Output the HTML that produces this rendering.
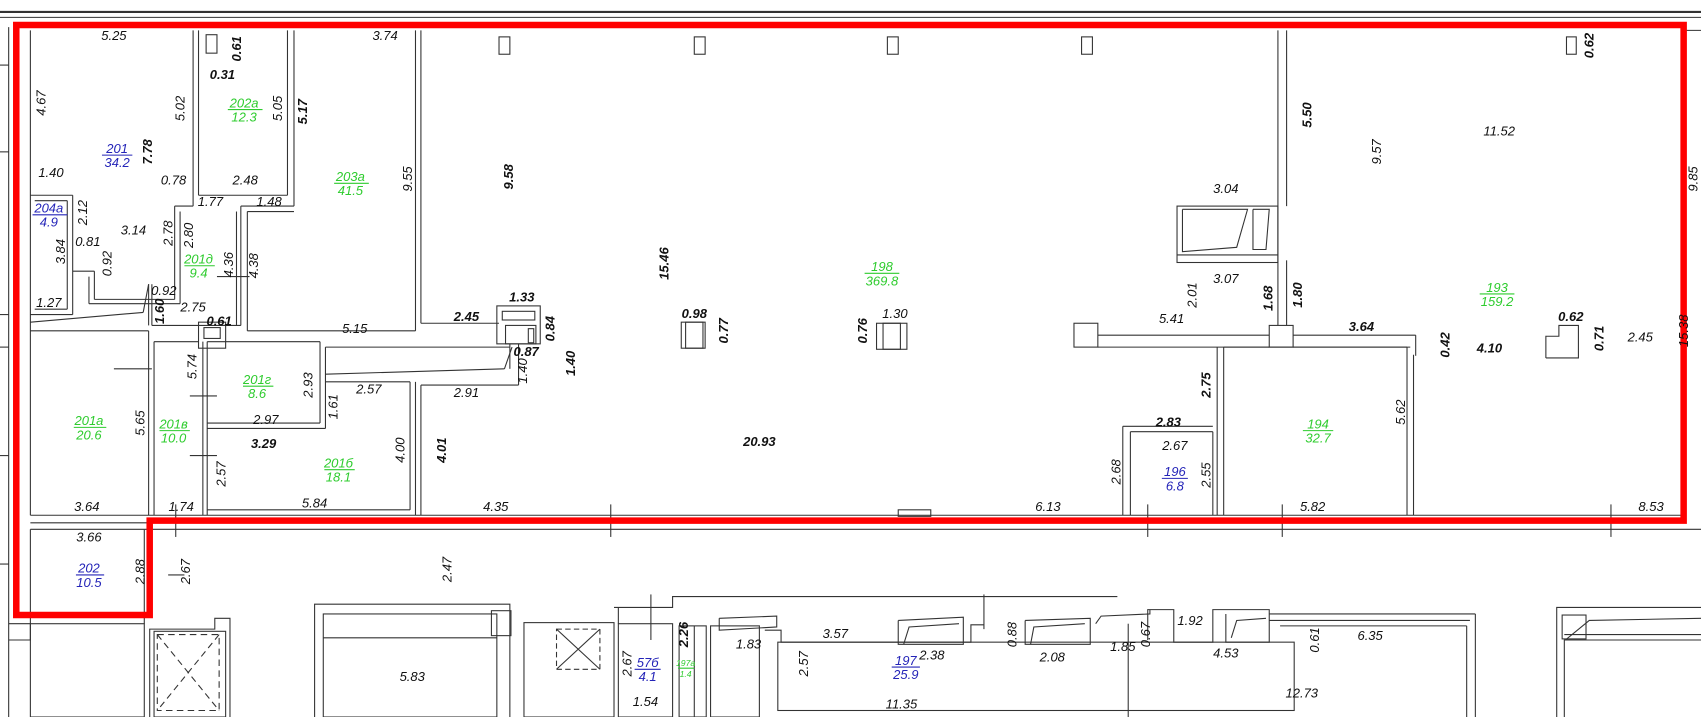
<!DOCTYPE html>
<html><head><meta charset="utf-8"><style>
html,body{margin:0;padding:0;background:#fff;width:1701px;height:717px;overflow:hidden}
svg{display:block}
text{font-family:"Liberation Sans",sans-serif;font-style:italic;font-size:12px;text-anchor:middle;fill:#111}
.b{font-weight:bold;font-size:12px}
.g{fill:#2ecc2e}.u{fill:#2424b8}
</style></head><body>
<svg width="1701" height="717" viewBox="0 0 1568 661" preserveAspectRatio="none" xmlns="http://www.w3.org/2000/svg">
<g fill="none" stroke="#333" stroke-width="1">
<!-- top band -->
<line x1="0" y1="11" x2="1568" y2="11" stroke-width="2"/>
<line x1="0" y1="16" x2="1568" y2="16"/>
<line x1="1552" y1="28" x2="1568" y2="28"/>
<!-- left outer -->
<line x1="8" y1="25" x2="8" y2="661"/>
<line x1="28" y1="28" x2="28" y2="475"/>
<line x1="28" y1="488" x2="28" y2="575"/>
<line x1="0" y1="60" x2="8" y2="60"/><line x1="0" y1="140" x2="8" y2="140"/><line x1="0" y1="290" x2="8" y2="290"/><line x1="0" y1="320" x2="8" y2="320"/><line x1="0" y1="420" x2="8" y2="420"/><line x1="0" y1="520" x2="8" y2="520"/>
<!-- 201 / 202a -->
<line x1="178" y1="28" x2="178" y2="190"/><line x1="183" y1="28" x2="183" y2="180"/>
<line x1="183" y1="180" x2="265" y2="180"/><line x1="265" y1="28" x2="265" y2="180"/><line x1="271" y1="28" x2="271" y2="190"/>
<line x1="222" y1="190" x2="271" y2="190"/>
<line x1="161" y1="190" x2="178" y2="190"/>
<line x1="161" y1="190" x2="161" y2="276"/><line x1="166" y1="195" x2="166" y2="280"/>
<line x1="87" y1="276" x2="161" y2="276"/><line x1="82" y1="280" x2="166" y2="280"/>
<line x1="87" y1="250" x2="87" y2="276"/><line x1="82" y1="255" x2="82" y2="280"/>
<line x1="67" y1="250" x2="87" y2="250"/>
<!-- 204a -->
<line x1="28" y1="180" x2="67" y2="180"/><line x1="32" y1="185" x2="62" y2="185"/>
<line x1="67" y1="180" x2="67" y2="290"/><line x1="62" y1="185" x2="62" y2="285"/>
<line x1="32" y1="285" x2="62" y2="285"/><line x1="28" y1="290" x2="67" y2="290"/>
<!-- slanted -->
<line x1="28" y1="297" x2="132" y2="288"/><line x1="132" y1="288" x2="137" y2="262"/><line x1="137" y1="262" x2="137" y2="300"/>
<!-- 201д -->
<line x1="140" y1="262" x2="140" y2="300"/><line x1="140" y1="300" x2="222" y2="300"/>
<line x1="222" y1="190" x2="222" y2="300"/><line x1="218" y1="195" x2="218" y2="300"/>
<line x1="200" y1="255" x2="230" y2="255" />
<!-- 203a -->
<line x1="228" y1="195" x2="228" y2="305"/><line x1="228" y1="195" x2="271" y2="195"/>
<line x1="228" y1="305" x2="383" y2="305"/><line x1="383" y1="28" x2="383" y2="305"/><line x1="388" y1="28" x2="388" y2="298"/>
<line x1="388" y1="298" x2="460" y2="298"/>
<!-- 0.61 box -->
<rect x="183" y="297" width="25" height="24"/><rect x="188" y="302" width="15" height="10"/>
<!-- left lower rooms -->
<line x1="28" y1="305" x2="137" y2="305"/><line x1="137" y1="305" x2="137" y2="475"/><line x1="142" y1="315" x2="142" y2="475"/>
<line x1="142" y1="315" x2="183" y2="315"/>
<line x1="187" y1="315" x2="187" y2="475"/><line x1="191" y1="315" x2="191" y2="475"/>
<line x1="191" y1="315" x2="295" y2="315"/><line x1="295" y1="315" x2="295" y2="390"/><line x1="300" y1="320" x2="300" y2="395"/>
<line x1="191" y1="390" x2="295" y2="390"/><line x1="191" y1="395" x2="300" y2="395"/>
<line x1="300" y1="320" x2="470" y2="320"/><line x1="300" y1="345" x2="465" y2="340"/><line x1="465" y1="340" x2="472" y2="320"/>
<line x1="300" y1="352" x2="378" y2="352"/><line x1="378" y1="352" x2="378" y2="470"/><line x1="191" y1="470" x2="378" y2="470"/>
<line x1="383" y1="352" x2="383" y2="475"/><line x1="388" y1="355" x2="388" y2="475"/><line x1="388" y1="355" x2="478" y2="355"/>
<line x1="175" y1="365" x2="200" y2="365"/><line x1="175" y1="420" x2="200" y2="420"/>
<line x1="105" y1="340" x2="140" y2="340"/>
<!-- 1.33 box -->
<rect x="458" y="282" width="40" height="35"/><rect x="463" y="287" width="30" height="8"/><rect x="466" y="300" width="28" height="17"/><rect x="487" y="303" width="5" height="13"/>
<line x1="478" y1="317" x2="478" y2="355"/><line x1="470" y1="317" x2="470" y2="340"/>
<!-- columns -->
<rect x="628" y="297" width="22" height="24"/><rect x="632" y="297" width="16" height="24"/>
<rect x="808" y="298" width="28" height="24"/><rect x="814" y="298" width="16" height="24"/>
<rect x="990" y="298" width="22" height="22"/>
<line x1="1012" y1="309" x2="1170" y2="309"/><line x1="1012" y1="320" x2="1170" y2="320"/>
<rect x="1170" y="300" width="22" height="20"/>
<line x1="1192" y1="309" x2="1305" y2="309"/><line x1="1305" y1="309" x2="1305" y2="328"/>
<line x1="1192" y1="320" x2="1300" y2="320"/>
<!-- right walls -->
<line x1="1178" y1="28" x2="1178" y2="300"/><line x1="1186" y1="28" x2="1186" y2="190"/><line x1="1186" y1="240" x2="1186" y2="300"/>
<rect x="1085" y="190" width="93" height="52"/><line x1="1085" y1="235" x2="1178" y2="235"/>
<polyline points="1090,193 1150,193 1140,228 1090,232 1090,193"/><polyline points="1155,193 1170,193 1167,230 1155,230 1155,193"/>
<!-- 194/196 -->
<line x1="1122" y1="320" x2="1122" y2="475"/><line x1="1128" y1="320" x2="1128" y2="475"/>
<line x1="1128" y1="320" x2="1297" y2="320"/><line x1="1297" y1="320" x2="1297" y2="475"/><line x1="1303" y1="327" x2="1303" y2="475"/>
<line x1="1035" y1="393" x2="1118" y2="393"/><line x1="1042" y1="398" x2="1118" y2="398"/>
<line x1="1035" y1="393" x2="1035" y2="475"/><line x1="1042" y1="398" x2="1042" y2="475"/><line x1="1118" y1="398" x2="1118" y2="475"/>
<polyline points="1425,330 1425,310 1437,310 1437,300 1455,300 1455,330 1425,330"/>
<!-- top windows -->
<rect x="190" y="32" width="10" height="17"/><rect x="460" y="34" width="10" height="16"/><rect x="640" y="34" width="10" height="16"/><rect x="818" y="34" width="10" height="16"/><rect x="997" y="34" width="10" height="16"/><rect x="1444" y="34" width="9" height="16"/>
<!-- bottom band -->
<line x1="28" y1="475" x2="1552" y2="475"/><line x1="133" y1="488" x2="1568" y2="488"/><line x1="28" y1="488" x2="133" y2="488"/>
<line x1="28" y1="482" x2="137" y2="482"/>
<rect x="828" y="470" width="30" height="6"/>
<line x1="162" y1="465" x2="162" y2="495"/><line x1="563" y1="465" x2="563" y2="495"/><line x1="1058" y1="465" x2="1058" y2="495"/><line x1="1182" y1="465" x2="1182" y2="495"/><line x1="1485" y1="465" x2="1485" y2="495"/>
<line x1="133" y1="488" x2="133" y2="575"/><line x1="155" y1="530" x2="170" y2="530"/>
<!-- bottom buildings -->
<polyline points="8,575 28,575 28,590 8,590"/>
<rect x="28" y="575" width="105" height="86"/>
<polyline points="138,661 138,580 198,580 198,570 212,570 212,661"/>
<rect x="142" y="582" width="66" height="79"/>
<rect x="145" y="585" width="57" height="70" stroke-dasharray="6,4"/><line x1="145" y1="585" x2="202" y2="655" stroke-dasharray="6,4"/><line x1="202" y1="585" x2="145" y2="655" stroke-dasharray="6,4"/>
<polyline points="290,661 290,557 470,557 470,661"/><rect x="298" y="566" width="160" height="95"/><line x1="298" y1="588" x2="458" y2="588"/><rect x="453" y="563" width="18" height="23"/>
<rect x="483" y="574" width="83" height="87"/>
<rect x="513" y="580" width="40" height="37" stroke-dasharray="5,3"/><line x1="513" y1="580" x2="553" y2="617"/><line x1="553" y1="580" x2="513" y2="617"/>
<polyline points="566,560 620,560 620,550 1030,550"/>
<rect x="570" y="575" width="50" height="86"/><line x1="570" y1="560" x2="570" y2="575"/><line x1="600" y1="548" x2="600" y2="590"/>
<rect x="626" y="577" width="25" height="84"/><line x1="640" y1="577" x2="640" y2="661"/>
<rect x="655" y="577" width="45" height="84"/>
<polyline points="663,570 716,568 716,578 663,581 663,570"/>
<polyline points="705,581 720,581 720,592 895,592 895,576 907,576"/>
<rect x="717" y="592" width="476" height="63"/>
<polyline points="828,572 888,569 888,594 828,594 828,572"/><polyline points="833,594 838,578 884,575"/>
<polyline points="945,572 1005,570 1005,594 945,594 945,572"/><polyline points="950,594 953,578 1000,575"/>
<line x1="907" y1="548" x2="907" y2="580"/>
<polyline points="1010,575 1015,568 1060,566 1060,562"/>
<line x1="1040" y1="575" x2="1040" y2="661"/>
<polyline points="1058,590 1058,562 1082,562 1082,592 1118,592 1118,562 1170,562 1170,592 1130,592 1130,566"/>
<polyline points="1135,588 1140,572 1167,570"/>
<line x1="1170" y1="566" x2="1360" y2="566"/><line x1="1170" y1="572" x2="1355" y2="572"/>
<line x1="1360" y1="566" x2="1360" y2="661"/><line x1="1352" y1="577" x2="1352" y2="661"/><line x1="1180" y1="577" x2="1352" y2="577"/>
<polyline points="1435,661 1435,560 1568,560"/><polyline points="1442,661 1442,590 1568,590"/><line x1="1442" y1="585" x2="1568" y2="585"/>
<rect x="1440" y="567" width="22" height="22"/><polyline points="1443,590 1465,572 1568,570"/>
</g>
<!-- red outline -->
<polygon points="15,23 1552,23 1552,480 138,480 138,567 15,567" fill="none" stroke="#ff0000" stroke-width="6"/>
<!-- labels normal -->
<text x="105" y="37">5.25</text><text x="355" y="37">3.74</text>
<text transform="translate(42,95) rotate(-90)">4.67</text>
<text transform="translate(170,100) rotate(-90)">5.02</text>
<text transform="translate(260,100) rotate(-90)">5.05</text>
<text x="47" y="163">1.40</text><text x="160" y="170">0.78</text><text x="226" y="170">2.48</text>
<text x="194" y="190">1.77</text><text x="248" y="190">1.48</text><text x="123" y="216">3.14</text><text x="81" y="227">0.81</text>
<text transform="translate(80,196) rotate(-90)">2.12</text>
<text transform="translate(60,232) rotate(-90)">3.84</text>
<text transform="translate(103,243) rotate(-90)">0.92</text>
<text transform="translate(159,215) rotate(-90)">2.78</text>
<text transform="translate(178,217) rotate(-90)">2.80</text>
<text transform="translate(215,244) rotate(-90)">4.36</text>
<text transform="translate(238,245) rotate(-90)">4.38</text>
<text transform="translate(380,165) rotate(-90)">9.55</text>
<text x="45" y="283">1.27</text><text x="151" y="272">0.92</text><text x="178" y="287">2.75</text><text x="327" y="307">5.15</text>
<text transform="translate(288,355) rotate(-90)">2.93</text>
<text x="340" y="363">2.57</text><text x="430" y="366">2.91</text>
<text transform="translate(486,342) rotate(-90)">1.40</text>
<text transform="translate(181,338) rotate(-90)">5.74</text>
<text transform="translate(133,390) rotate(-90)">5.65</text>
<text x="245" y="391">2.97</text>
<text transform="translate(311,375) rotate(-90)">1.61</text>
<text transform="translate(373,415) rotate(-90)">4.00</text>
<text transform="translate(208,437) rotate(-90)">2.57</text>
<text x="290" y="468">5.84</text><text x="80" y="471">3.64</text><text x="167" y="471">1.74</text><text x="457" y="471">4.35</text><text x="966" y="471">6.13</text>
<text x="82" y="499">3.66</text>
<text transform="translate(133,527) rotate(-90)">2.88</text>
<text transform="translate(175,527) rotate(-90)">2.67</text>
<text transform="translate(416,525) rotate(-90)">2.47</text>
<text x="1130" y="178">3.04</text><text x="1130" y="261">3.07</text>
<text transform="translate(1103,272) rotate(-90)">2.01</text>
<text x="1080" y="298">5.41</text>
<text transform="translate(1273,140) rotate(-90)">9.57</text>
<text x="1382" y="125">11.52</text>
<text transform="translate(1565,165) rotate(-90)">9.85</text>
<text transform="translate(1556,305) rotate(-90)">15.38</text>
<text x="1512" y="315">2.45</text><text x="825" y="293">1.30</text><text x="1083" y="415">2.67</text>
<text transform="translate(1116,438) rotate(-90)">2.55</text>
<text transform="translate(1033,435) rotate(-90)">2.68</text>
<text transform="translate(1295,380) rotate(-90)">5.62</text>
<text x="1210" y="471">5.82</text><text x="1522" y="471">8.53</text>
<text x="380" y="628">5.83</text>
<text transform="translate(582,612) rotate(-90)">2.67</text>
<text x="595" y="651">1.54</text><text x="690" y="598">1.83</text><text x="770" y="588">3.57</text>
<text transform="translate(745,612) rotate(-90)">2.57</text>
<text x="859" y="608">2.38</text>
<text transform="translate(937,585) rotate(-90)">0.88</text>
<text x="970" y="610">2.08</text><text x="1035" y="600">1.85</text>
<text transform="translate(1060,585) rotate(-90)">0.67</text>
<text x="1097" y="576">1.92</text><text x="1130" y="606">4.53</text>
<text transform="translate(1216,590) rotate(-90)">0.61</text>
<text x="1263" y="590">6.35</text><text x="1200" y="643">12.73</text><text x="831" y="653">11.35</text>
<!-- bold -->
<text class="b" transform="translate(222,45) rotate(-90)">0.61</text>
<text class="b" x="205" y="73">0.31</text>
<text class="b" transform="translate(140,140) rotate(-90)">7.78</text>
<text class="b" transform="translate(283,103) rotate(-90)">5.17</text>
<text class="b" transform="translate(473,163) rotate(-90)">9.58</text>
<text class="b" transform="translate(151,287) rotate(-90)">1.60</text>
<text class="b" x="202" y="300">0.61</text><text class="b" x="430" y="296">2.45</text><text class="b" x="481" y="278">1.33</text>
<text class="b" transform="translate(511,303) rotate(-90)">0.84</text>
<text class="b" x="485" y="328">0.87</text>
<text class="b" transform="translate(530,335) rotate(-90)">1.40</text>
<text class="b" transform="translate(616,243) rotate(-90)">15.46</text>
<text class="b" x="640" y="293">0.98</text>
<text class="b" transform="translate(671,305) rotate(-90)">0.77</text>
<text class="b" transform="translate(799,305) rotate(-90)">0.76</text>
<text class="b" transform="translate(1209,106) rotate(-90)">5.50</text>
<text class="b" transform="translate(1173,275) rotate(-90)">1.68</text>
<text class="b" transform="translate(1200,272) rotate(-90)">1.80</text>
<text class="b" x="1255" y="305">3.64</text>
<text class="b" transform="translate(1336,318) rotate(-90)">0.42</text>
<text class="b" x="1373" y="325">4.10</text><text class="b" x="1448" y="296">0.62</text>
<text class="b" transform="translate(1478,312) rotate(-90)">0.71</text>
<text class="b" transform="translate(1469,42) rotate(-90)">0.62</text>
<text class="b" transform="translate(1116,355) rotate(-90)">2.75</text>
<text class="b" x="1077" y="393">2.83</text>
<text class="b" transform="translate(411,415) rotate(-90)">4.01</text>
<text class="b" x="243" y="413">3.29</text><text class="b" x="700" y="411">20.93</text>
<text class="b" transform="translate(634,585) rotate(-90)">2.26</text>
<!-- room labels -->
<g stroke-width="1">
<text class="u" x="108" y="141">201</text><line x1="94" y1="143" x2="122" y2="143" stroke="#2424b8"/><text class="u" x="108" y="154">34.2</text>
<text class="g" x="225" y="99">202a</text><line x1="210" y1="101" x2="242" y2="101" stroke="#2ecc2e"/><text class="g" x="225" y="112">12.3</text>
<text class="g" x="323" y="167">203a</text><line x1="308" y1="169" x2="340" y2="169" stroke="#2ecc2e"/><text class="g" x="323" y="180">41.5</text>
<text class="u" x="45" y="196">204a</text><line x1="30" y1="198" x2="62" y2="198" stroke="#2424b8"/><text class="u" x="45" y="209">4.9</text>
<text class="g" x="183" y="243">201д</text><line x1="170" y1="245" x2="198" y2="245" stroke="#2ecc2e"/><text class="g" x="183" y="256">9.4</text>
<text class="g" x="237" y="354">201г</text><line x1="224" y1="356" x2="252" y2="356" stroke="#2ecc2e"/><text class="g" x="237" y="367">8.6</text>
<text class="g" x="82" y="392">201а</text><line x1="68" y1="394" x2="98" y2="394" stroke="#2ecc2e"/><text class="g" x="82" y="405">20.6</text>
<text class="g" x="160" y="395">201в</text><line x1="147" y1="397" x2="175" y2="397" stroke="#2ecc2e"/><text class="g" x="160" y="408">10.0</text>
<text class="g" x="312" y="431">201б</text><line x1="299" y1="433" x2="327" y2="433" stroke="#2ecc2e"/><text class="g" x="312" y="444">18.1</text>
<text class="u" x="82" y="528">202</text><line x1="70" y1="530" x2="96" y2="530" stroke="#2424b8"/><text class="u" x="82" y="541">10.5</text>
<text class="g" x="813" y="250">198</text><line x1="797" y1="252" x2="829" y2="252" stroke="#2ecc2e"/><text class="g" x="813" y="263">369.8</text>
<text class="g" x="1380" y="269">193</text><line x1="1364" y1="271" x2="1396" y2="271" stroke="#2ecc2e"/><text class="g" x="1380" y="282">159.2</text>
<text class="g" x="1215" y="395">194</text><line x1="1201" y1="397" x2="1229" y2="397" stroke="#2ecc2e"/><text class="g" x="1215" y="408">32.7</text>
<text class="u" x="1083" y="439">196</text><line x1="1071" y1="441" x2="1095" y2="441" stroke="#2424b8"/><text class="u" x="1083" y="452">6.8</text>
<text class="u" x="835" y="613">197</text><line x1="822" y1="615" x2="848" y2="615" stroke="#2424b8"/><text class="u" x="835" y="626">25.9</text>
<text class="u" x="597" y="615">57б</text><line x1="585" y1="617" x2="609" y2="617" stroke="#2424b8"/><text class="u" x="597" y="628">4.1</text>
<text class="g" x="632" y="614" style="font-size:8px">197а</text><line x1="625" y1="616" x2="640" y2="616" stroke="#2ecc2e"/><text class="g" x="632" y="624" style="font-size:8px">1.4</text>
</g>
</svg>
</body></html>
